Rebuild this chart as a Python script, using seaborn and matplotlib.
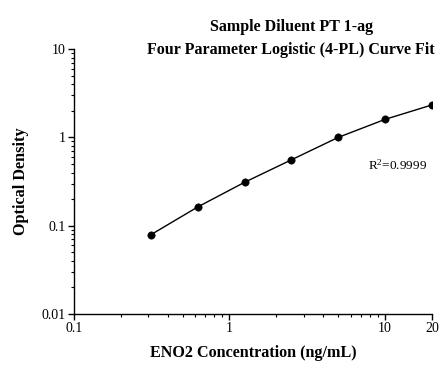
import matplotlib
matplotlib.use("Agg")
import matplotlib.pyplot as plt
import seaborn as sns
import pandas as pd
from matplotlib.ticker import LogLocator, FixedLocator, FixedFormatter, NullFormatter

concentration = [0.3125, 0.625, 1.25, 2.5, 5, 10, 20]
optical_density = [0.079, 0.163, 0.31, 0.557, 1.0, 1.60, 2.33]
x_ticks = [0.1, 1, 10, 20]
x_tick_labels = ["0.1", "1", "10", "20"]
y_ticks = [0.01, 0.1, 1, 10]
y_tick_labels = ["0.01", "0.1", "1", "10"]

df = pd.DataFrame({"conc": concentration, "od": optical_density})

sns.set_theme(style="ticks")
plt.rcParams["font.family"] = ["Liberation Serif", "DejaVu Serif"]
plt.rcParams["text.color"] = "black"
plt.rcParams["axes.labelcolor"] = "black"
plt.rcParams["mathtext.fontset"] = "custom"
plt.rcParams["mathtext.rm"] = "Liberation Serif"
plt.rcParams["mathtext.it"] = "Liberation Serif:italic"
plt.rcParams["mathtext.bf"] = "Liberation Serif:bold"

fig = plt.figure(figsize=(4.48, 3.72), dpi=100)
ax = fig.add_axes([0.165, 0.156, 0.799, 0.712])

sns.lineplot(data=df, x="conc", y="od", ax=ax, color="black", linewidth=1.0)
sns.scatterplot(data=df, x="conc", y="od", ax=ax, color="black", s=28, edgecolor="black", zorder=3)

ax.set_xscale("log")
ax.set_yscale("log")
ax.set_xlim(0.1, 20)
ax.set_ylim(0.01, 10)

ax.xaxis.set_major_locator(FixedLocator(x_ticks))
ax.xaxis.set_major_formatter(FixedFormatter(x_tick_labels))
ax.xaxis.set_minor_locator(LogLocator(base=10, subs=range(2, 10)))
ax.xaxis.set_minor_formatter(NullFormatter())
ax.yaxis.set_major_locator(FixedLocator(y_ticks))
ax.yaxis.set_major_formatter(FixedFormatter(y_tick_labels))
ax.yaxis.set_minor_locator(LogLocator(base=10, subs=range(2, 10)))
ax.yaxis.set_minor_formatter(NullFormatter())

for s in ["top", "right"]:
    ax.spines[s].set_visible(False)
for s in ["left", "bottom"]:
    ax.spines[s].set_color("black")
    ax.spines[s].set_linewidth(1.0)

ax.tick_params(axis="both", which="major", direction="out", length=4, width=1, color="black",
               labelsize=10, labelcolor="black", pad=2)
ax.tick_params(axis="both", which="minor", direction="out", length=2.5, width=0.8, color="black")

ax.set_xlabel("ENO2 Concentration (ng/mL)", fontsize=11.6, fontweight="bold", labelpad=7)
ax.set_ylabel("Optical Density", fontsize=11.7, fontweight="bold", labelpad=9)

fig.text(0.65, 0.928, "Sample Diluent PT 1-ag", ha="center", va="center", fontsize=11.5, fontweight="bold")
fig.text(0.65, 0.866, "Four Parameter Logistic (4-PL) Curve Fit", ha="center", va="center", fontsize=11.5, fontweight="bold")

fig.text(0.821, 0.556, "R$^2$=0.9999", fontsize=9.5, ha="left", va="center")

fig.savefig("out.png", dpi=100)
